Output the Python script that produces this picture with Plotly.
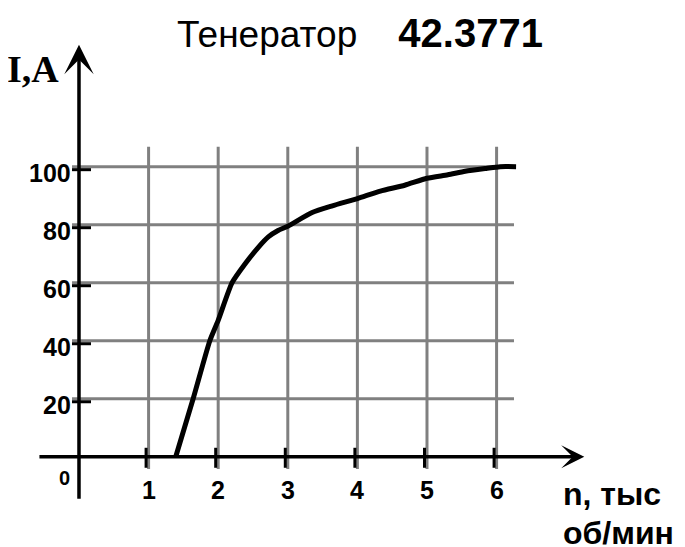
import plotly.graph_objects as go

# ---- data ----
X_TICKS = [1, 2, 3, 4, 5, 6]
X_LABELS = ["1", "2", "3", "4", "5", "6"]
Y_TICKS = [20, 40, 60, 80, 100]
Y_LABELS = ["20", "40", "60", "80", "100"]
speed_krpm = [1.39, 1.64, 1.88, 2.0, 2.2, 2.39, 2.58, 2.72, 2.86, 3.0, 3.35, 3.64,
              4.0, 4.33, 4.68, 5.0, 5.3, 5.55, 5.85, 6.05, 6.28]
current_a = [0, 20, 40, 47, 60, 66.6, 72.3, 75.8, 78, 79.5, 84.2, 86.5,
             89, 91.6, 93.6, 96, 97.2, 98.4, 99.4, 100, 100]

TITLE_WORD = "Тенератор"
TITLE_NUM = "42.3771"
Y_NAME = "I,A"
X_NAME_1 = "n, тыс"
X_NAME_2 = "об/мин"

# page body has an 8px margin, so the figure fills the rest of the window
W, H = 677, 539
X_RANGE = [-1.020, 8.707]
Y_RANGE = [-31.1, 154.7]

SANS = "Liberation Sans, Arial, sans-serif"
SERIF = "Liberation Serif, Times New Roman, serif"
GRID = "#808080"


def px(xr):
    return (xr - 8) / W


def py(yr):
    return 1 - (yr - 8) / H


fig = go.Figure()

fig.add_trace(go.Scatter(
    x=speed_krpm, y=current_a, mode="lines",
    line=dict(color="black", width=5, shape="spline", smoothing=0.6),
    hoverinfo="skip", showlegend=False,
))

shapes = []
for v in X_TICKS:
    shapes.append(dict(type="line", xref="x", yref="y", x0=v, x1=v, y0=-4.2, y1=106.9,
                       line=dict(color=GRID, width=3), layer="below"))
for v in Y_TICKS:
    shapes.append(dict(type="line", xref="x", yref="y", x0=-0.1, x1=6.25, y0=v, y1=v,
                       line=dict(color=GRID, width=3), layer="below"))
for v in X_TICKS:
    shapes.append(dict(type="line", xref="x", yref="y", xsizemode="pixel", xanchor=v,
                       x0=-2.5, x1=-2.5, ysizemode="pixel", yanchor=0, y0=-11, y1=9,
                       line=dict(color="black", width=3)))
for v in Y_TICKS:
    shapes.append(dict(type="line", xref="x", yref="y", xsizemode="pixel", xanchor=0,
                       x0=-7, x1=12, ysizemode="pixel", yanchor=v, y0=-3, y1=-3,
                       line=dict(color="black", width=3)))

annotations = []
annotations.append(dict(x=7.26, y=0, ax=-0.59, ay=0, xref="x", yref="y", axref="x", ayref="y",
                        text="", showarrow=True, arrowhead=3, arrowwidth=3.5, arrowsize=1.1,
                        arrowcolor="black", standoff=0, startstandoff=0))
annotations.append(dict(x=0, y=142, ax=0, ay=-15, xref="x", yref="y", axref="x", ayref="y",
                        text="", showarrow=True, arrowhead=3, arrowwidth=3.5, arrowsize=1.4,
                        arrowcolor="black", standoff=0, startstandoff=0))
for v, t in zip(X_TICKS, X_LABELS):
    annotations.append(dict(x=v, y=0, xref="x", yref="y", text="<b>%s</b>" % t, showarrow=False,
                            xanchor="center", yanchor="middle", yshift=-33,
                            font=dict(family=SANS, size=25, color="black")))
for v, t in zip(Y_TICKS, Y_LABELS):
    annotations.append(dict(x=0, y=v, xref="x", yref="y", text="<b>%s</b>" % t, showarrow=False,
                            xanchor="right", yanchor="middle", xshift=-6, yshift=-6,
                            font=dict(family=SANS, size=25, color="black")))
annotations.append(dict(x=0, y=0, xref="x", yref="y", text="<b>0</b>", showarrow=False,
                        xanchor="center", yanchor="middle", xshift=-14, yshift=-21,
                        font=dict(family=SANS, size=20, color="black")))
annotations.append(dict(x=px(33), y=py(69), xref="paper", yref="paper", text="<b>%s</b>" % Y_NAME,
                        showarrow=False, xanchor="center", yanchor="middle",
                        font=dict(family=SERIF, size=38, color="black")))
annotations.append(dict(x=px(561), y=py(494), xref="paper", yref="paper", text="<b>%s</b>" % X_NAME_1,
                        showarrow=False, xanchor="left", yanchor="middle",
                        font=dict(family=SANS, size=32, color="black")))
annotations.append(dict(x=px(561), y=py(533), xref="paper", yref="paper", text="<b>%s</b>" % X_NAME_2,
                        showarrow=False, xanchor="left", yanchor="middle",
                        font=dict(family=SANS, size=32, color="black")))

fig.update_layout(
    width=W, height=H, autosize=False,
    margin=dict(l=0, r=0, t=0, b=0, pad=0),
    paper_bgcolor="white", plot_bgcolor="white",
    title=dict(text='%s&nbsp;&nbsp;&nbsp;&nbsp;<span style="font-size:40px"><b>%s</b></span>'
                    % (TITLE_WORD, TITLE_NUM),
               x=px(360), y=py(34), xref="paper", yref="container",
               xanchor="center", yanchor="middle",
               font=dict(family=SANS, size=37, color="black")),
    xaxis=dict(visible=False, range=X_RANGE, fixedrange=True),
    yaxis=dict(visible=False, range=Y_RANGE, fixedrange=True),
    shapes=shapes, annotations=annotations, showlegend=False,
)

fig.write_html("out.html")
